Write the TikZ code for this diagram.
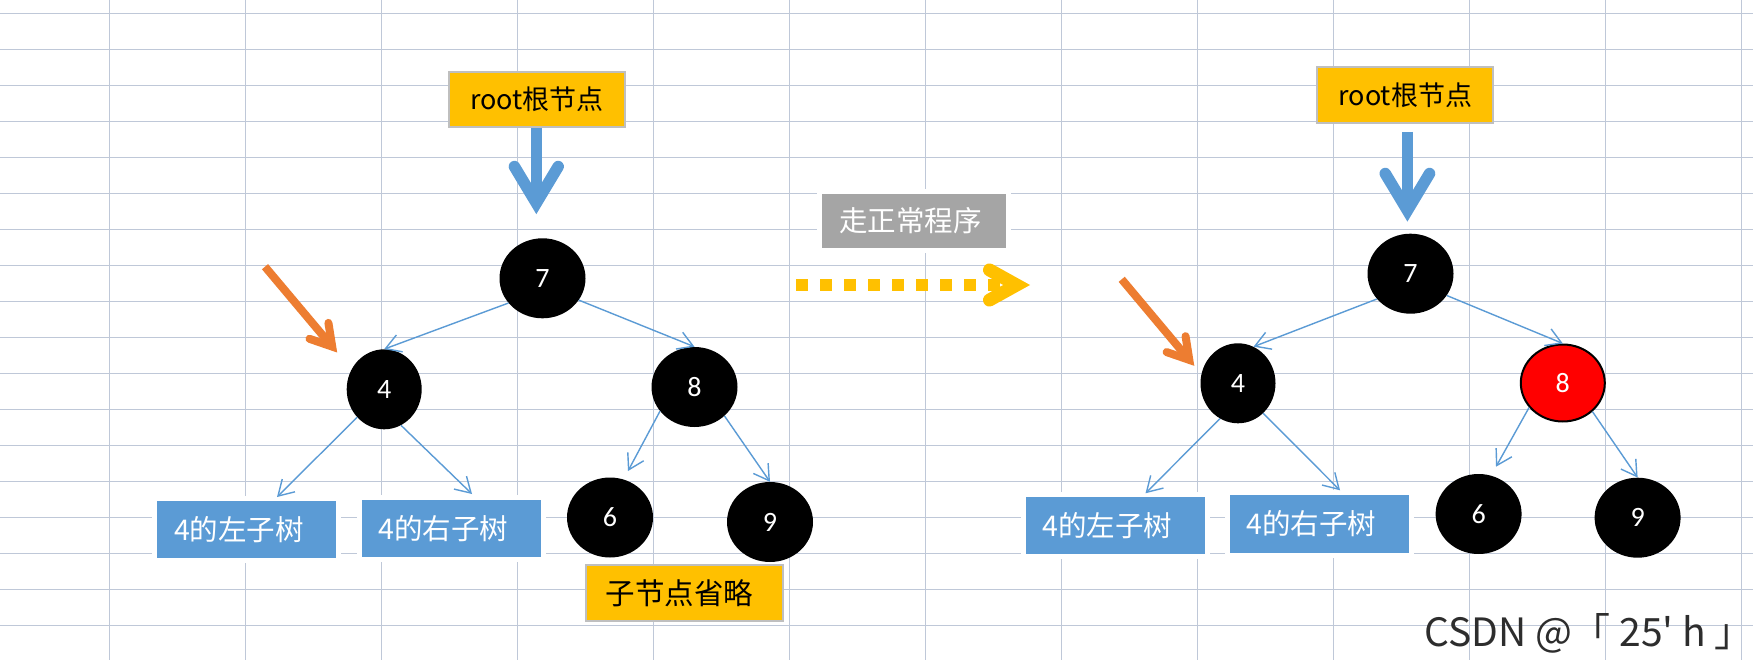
\documentclass[tikz,border=0pt]{standalone}
\usepackage{fontspec}
\setmainfont{Carlito}
\newfontfamily\cjk{Noto Sans CJK SC}
\newfontfamily\cjktc{Noto Sans CJK TC}
\usetikzlibrary{shapes.geometric,arrows.meta,calc}
\definecolor{gridc}{RGB}{191,200,216}
\definecolor{eblue}{RGB}{91,155,213}
\definecolor{eorange}{RGB}{237,125,49}
\definecolor{egold}{RGB}{255,192,0}
\definecolor{egray}{RGB}{165,165,165}
\definecolor{bordergray}{RGB}{191,191,191}
\definecolor{wmc}{RGB}{45,45,45}
\begin{document}
\begin{tikzpicture}[x=1pt,y=-1pt,
  gridline/.style={draw=gridc, line width=1.2pt},
  treenode/.style={ellipse, fill=black, minimum width=86pt, minimum height=80pt, inner sep=0pt, text=white, font=\fontsize{28}{30}\selectfont},
  rednode/.style={fill=red, draw=black, line width=2pt, minimum width=84pt, minimum height=77pt},
  goldbox/.style={rectangle, fill=egold, draw=bordergray, line width=2pt, inner sep=0pt, text=black, font=\cjk\fontsize{27}{30}\selectfont},
  bluebox/.style={rectangle, fill=eblue, preaction={draw=white, line width=10pt}, inner xsep=17pt, inner ysep=0pt, text width=145pt, align=left, minimum height=56.7pt, text=white, font=\cjk\fontsize{28.5}{30}\selectfont},
  graybox/.style={rectangle, fill=egray, preaction={draw=white, line width=10pt}, inner xsep=17pt, inner ysep=0pt, text width=150pt, align=left, minimum height=53.7pt, text=white, font=\cjk\fontsize{28.5}{30}\selectfont},
  link/.style={draw=eblue, line width=1.4pt, -{Straight Barb[length=15pt,width=18pt]}},
  thickblue/.style={draw=eblue, line width=11.5pt},
  thickorange/.style={draw=eorange, line width=8pt},
  thickgold/.style={draw=egold, line width=12pt},
  chev/.style={line cap=round, line join=miter, miter limit=10}
]
\useasboundingbox (0,0) rectangle (1753,660);
\fill[white] (0,0) rectangle (1753,660);
% grid
\foreach \i in {0,...,12} \draw[gridline] ({109.5+136*\i},0) -- ({109.5+136*\i},660);
\foreach \j in {0,...,17} \draw[gridline] (0,{13.3+36*\j}) -- (1753,{13.3+36*\j});

% ---------- left tree ----------
\node[goldbox, minimum width=176.6pt, minimum height=55.3pt] (rootL) at (537,99.3) {root根节点};
\node[treenode] (n7L) at (542.5,278.3) {7};
\node[treenode, minimum width=75pt] (n4L) at (384.2,389.3) {4};
\node[treenode] (n8L) at (694.5,387) {8};
\node[treenode] (n6L) at (610,517.5) {6};
\node[treenode] (n9L) at (770,522) {9};
\node[bluebox] (lL) at (246.5,529.3) {4的左子树};
\node[bluebox] (rL) at (451,528.3) {4的右子树};
\node[goldbox, inner xsep=20pt, text width=157.5pt, align=left, minimum height=56pt, font=\cjk\fontsize{29.5}{31}\selectfont] (omit) at (684.7,593) {子节点省略};

\draw[link] (n7L.216) -- (n4L.90);
\draw[link] (n7L.329) -- (n8L.90);
\coordinate (eLL) at (277,497);
\draw[link] (n4L.226) -- (eLL);
\coordinate (eLR) at (472,494);
\draw[link] (n4L.295) -- (eLR);
\coordinate (e6L) at (628,471);
\draw[link] (n8L.215) -- (e6L);
\draw[link] (n8L.316) -- (n9L.90);

% thick blue arrow (left)
\coordinate (bvL) at (536.3,203);
\coordinate (bsL) at (rootL.south -| bvL);
\draw[thickblue] (bsL) -- (bvL);
\draw[thickblue, chev] ($(bvL)!42.5pt!31:(bsL)$) -- (bvL) -- ($(bvL)!42.5pt!-31:(bsL)$);

% orange arrow (left)
\coordinate (osL) at (265,266.7);
\coordinate (otL) at (332.2,346.6);
\draw[thickorange] (osL) -- (otL);
\draw[thickorange, chev] ($(otL)!24pt!31:(osL)$) -- (otL) -- ($(otL)!24pt!-31:(osL)$);

% ---------- middle ----------
\node[graybox] (walk) at (914,220.9) {走正常程序};
\coordinate (ys) at (796,285);
\coordinate (ye) at (1000,285);
\coordinate (yv) at (1016.6,285);
\draw[thickgold, dash pattern=on 12pt off 12pt] (ys) -- (ye);
\draw[thickgold, line width=13pt, chev] ($(yv)!31pt!29:(ys)$) -- (yv) -- ($(yv)!31pt!-29:(ys)$);

% ---------- right tree ----------
\node[goldbox, minimum width=176pt, minimum height=56pt] (rootR) at (1405.3,95.3) {root根节点};
\node[treenode] (n7R) at (1410.5,273.7) {7};
\node[treenode, minimum width=75pt] (n4R) at (1238,383.3) {4};
\node[treenode, rednode] (n8R) at (1562.8,383) {8};
\node[treenode] (n6R) at (1478.6,514) {6};
\node[treenode] (n9R) at (1637.6,517.7) {9};
\node[bluebox, minimum height=57.3pt] (lR) at (1115,525.3) {4的左子树};
\node[bluebox, minimum height=57.7pt] (rR) at (1319.1,523.8) {4的右子树};

\draw[link] (n7R.217) -- (n4R.67);
\draw[link] (n7R.329) -- (n8R.90);
\coordinate (eRL) at (1145.5,493.3);
\draw[link] (n4R.243) -- (eRL);
\coordinate (eRR) at (1340,490.3);
\draw[link] (n4R.310) -- (eRR);
\coordinate (e6R) at (1496,466.7);
\draw[link] (n8R.216) -- (e6R);
\draw[link] (n8R.316) -- (n9R.90);

% thick blue arrow (right)
\coordinate (bvR) at (1407.4,210.4);
\coordinate (bsR) at (1407.4,132);
\draw[thickblue] (bsR) -- (bvR);
\draw[thickblue, chev] ($(bvR)!43pt!31:(bsR)$) -- (bvR) -- ($(bvR)!43pt!-31:(bsR)$);

% orange arrow (right)
\coordinate (osR) at (1121.7,279.3);
\coordinate (otR) at (1189.3,359.9);
\draw[thickorange] (osR) -- (otR);
\draw[thickorange, chev] ($(otR)!24pt!31:(osR)$) -- (otR) -- ($(otR)!24pt!-31:(osR)$);

% watermark
\node[anchor=base west, inner sep=0pt, text=wmc, font=\cjktc\fontsize{39}{44}\selectfont] (wmark) at (1424,646) {CSDN @「 25\symbol{39} h 」};
\end{tikzpicture}
\end{document}
